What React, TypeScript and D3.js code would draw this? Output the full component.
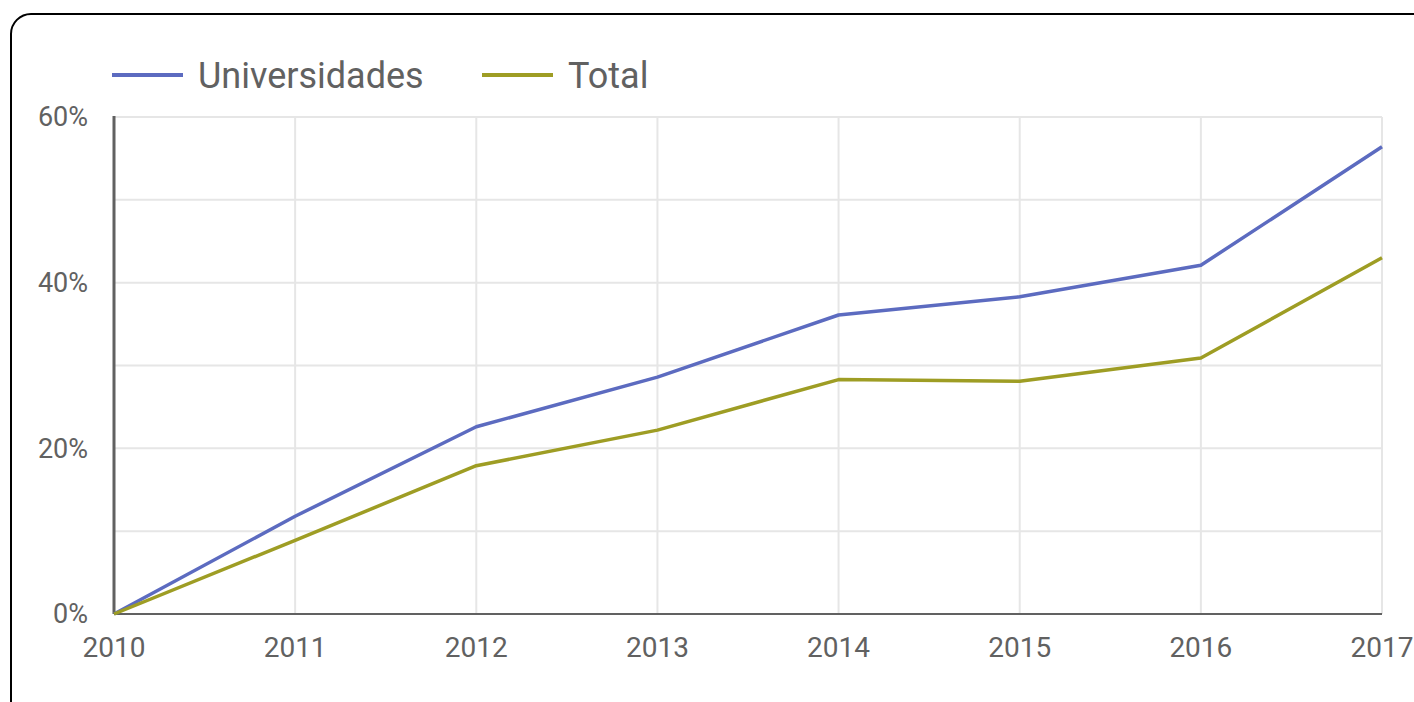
import React, { useEffect, useRef } from 'react';
import * as d3 from 'd3';

const years = [2010, 2011, 2012, 2013, 2014, 2015, 2016, 2017];
const universidades = [0, 11.8, 22.6, 28.6, 36.1, 38.3, 42.1, 56.4];
const total = [0, 8.9, 17.9, 22.2, 28.3, 28.1, 30.9, 43.0];
const yTicks = [0, 20, 40, 60];
const seriesNames = ['Universidades', 'Total'];
const seriesColors = ['#5c6bc0', '#9e9d24'];

const W = 1414;
const H = 702;

const App: React.FC = () => {
    const ref = useRef<SVGSVGElement>(null);

    useEffect(() => {
        if (!ref.current) return;
        const svg = d3.select(ref.current);
        svg.selectAll('*').remove();

        const margin = { top: 117, right: 32, bottom: 88, left: 114 };

        // card border
        svg.append('rect')
            .attr('x', 11).attr('y', 14)
            .attr('width', W + 20).attr('height', H + 20)
            .attr('rx', 20).attr('ry', 20)
            .attr('fill', 'white')
            .attr('stroke', 'black')
            .attr('stroke-width', 2);

        const x = d3.scaleLinear()
            .domain([years[0], years[years.length - 1]])
            .range([margin.left, W - margin.right]);
        const y = d3.scaleLinear()
            .domain([0, 60])
            .range([H - margin.bottom, margin.top]);

        const grid = svg.append('g');
        grid.selectAll('line.h')
            .data(d3.range(10, 61, 10))
            .enter().append('line')
            .attr('x1', margin.left).attr('x2', W - margin.right)
            .attr('y1', d => y(d)).attr('y2', d => y(d))
            .attr('stroke', '#e6e6e6').attr('stroke-width', 2);
        grid.selectAll('line.v')
            .data(years.slice(1))
            .enter().append('line')
            .attr('x1', d => x(d)).attr('x2', d => x(d))
            .attr('y1', y(60)).attr('y2', y(0))
            .attr('stroke', '#e6e6e6').attr('stroke-width', 2);

        // axes lines
        svg.append('line')
            .attr('x1', margin.left).attr('x2', W - margin.right)
            .attr('y1', y(0)).attr('y2', y(0))
            .attr('stroke', '#616161').attr('stroke-width', 2);
        svg.append('line')
            .attr('x1', margin.left).attr('x2', margin.left)
            .attr('y1', y(60) - 1).attr('y2', y(0))
            .attr('stroke', '#616161').attr('stroke-width', 3);

        const font = 'Roboto, sans-serif';

        svg.append('g').selectAll('text')
            .data(yTicks)
            .enter().append('text')
            .attr('x', 88)
            .attr('y', d => y(d))
            .attr('dy', '0.35em')
            .attr('text-anchor', 'end')
            .attr('font-family', font)
            .attr('font-size', 27)
            .attr('fill', '#616161')
            .text(d => `${d}%`);

        svg.append('g').selectAll('text')
            .data(years)
            .enter().append('text')
            .attr('x', d => x(d))
            .attr('y', 657)
            .attr('text-anchor', 'middle')
            .attr('font-family', font)
            .attr('font-size', 28)
            .attr('fill', '#616161')
            .text(d => String(d));

        const line = d3.line<number>()
            .x((_, i) => x(years[i]))
            .y(d => y(d));

        [universidades, total].forEach((s, i) => {
            svg.append('path')
                .datum(s)
                .attr('d', line)
                .attr('fill', 'none')
                .attr('stroke', seriesColors[i])
                .attr('stroke-width', 3.5)
                .attr('stroke-linejoin', 'round');
        });

        // legend
        const legendX = [112, 482];
        seriesNames.forEach((name, i) => {
            const g = svg.append('g').attr('transform', `translate(${legendX[i]}, 75)`);
            g.append('line')
                .attr('x1', 0).attr('x2', 71)
                .attr('y1', 0).attr('y2', 0)
                .attr('stroke', seriesColors[i])
                .attr('stroke-width', 4);
            g.append('text')
                .attr('x', 86)
                .attr('y', 0)
                .attr('dy', '0.35em')
                .attr('font-family', font)
                .attr('font-size', 36)
                .attr('fill', '#616161')
                .text(name);
        });
    }, []);

    return (
        <svg ref={ref} width={W} height={H}
            style={{ position: 'absolute', left: 0, top: 0, display: 'block' }} />
    );
};

export default App;
